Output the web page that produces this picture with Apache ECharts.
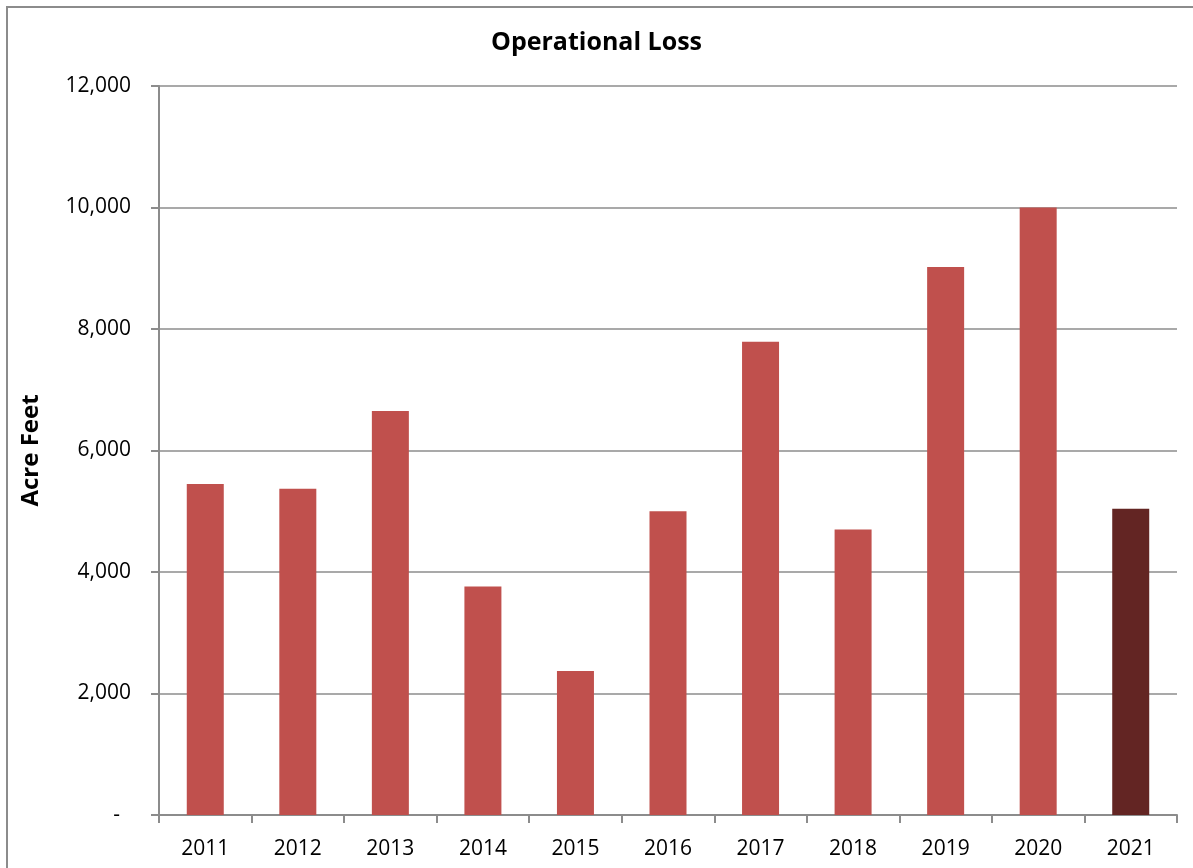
<!DOCTYPE html>
<html>
<head>
<meta charset="utf-8">
<script src="https://cdn.jsdelivr.net/npm/echarts@6/dist/echarts.min.js"></script>
<style>
  html, body { margin: 0; padding: 0; background: #fff; overflow: hidden; }
  #chart { width: 1193px; height: 868px; }
</style>
</head>
<body>
<div id="chart"></div>
<script>
// data
var years = ['2011', '2012', '2013', '2014', '2015', '2016', '2017', '2018', '2019', '2020', '2021'];
var loss = [5450, 5370, 6650, 3760, 2370, 5000, 7790, 4700, 9020, 10000, 5040];
var lastYearColor = '#632523';
var barColor = '#c0504d';

var chart = echarts.init(document.getElementById('chart'));

var barData = loss.map(function (v, i) {
  return {
    value: v,
    itemStyle: { color: i === loss.length - 1 ? lastYearColor : barColor }
  };
});

var option = {
  animation: false,
  textStyle: { fontFamily: 'Open Sans, Noto Sans, sans-serif' },
  title: {
    text: 'Operational Loss',
    left: 'center',
    top: 25,
    textStyle: { fontSize: 25, fontWeight: 'bold', color: '#000', fontFamily: 'Open Sans, sans-serif' }
  },
  graphic: [{
    type: 'rect',
    shape: { x: 7, y: 7, width: 1400, height: 1000 },
    style: { fill: null, stroke: '#8c8c8c', lineWidth: 2 },
    silent: true
  }],
  grid: { left: 159, right: 16, top: 86, bottom: 53 },
  xAxis: {
    type: 'category',
    data: years,
    boundaryGap: true,
    axisLine: { lineStyle: { color: '#8c8c8c', width: 2 } },
    axisTick: { show: true, length: 8, lineStyle: { color: '#8c8c8c', width: 2 } },
    axisLabel: { color: '#000', fontSize: 21, margin: 24, fontFamily: 'Open Sans, sans-serif' }
  },
  yAxis: {
    type: 'value',
    min: 0,
    max: 12000,
    interval: 2000,
    name: 'Acre Feet',
    nameLocation: 'middle',
    nameGap: 116,
    nameRotate: 90,
    nameTextStyle: { fontSize: 24, fontWeight: 'bold', color: '#000', fontFamily: 'Open Sans, sans-serif' },
    axisLine: { show: true, lineStyle: { color: '#8c8c8c', width: 2 } },
    axisTick: { show: true, inside: false, length: 8, lineStyle: { color: '#8c8c8c', width: 2 } },
    splitLine: { show: true, lineStyle: { color: '#8c8c8c', width: 1.5 } },
    axisLabel: {
      color: '#000',
      fontSize: 21,
      margin: 28,
      fontFamily: 'Open Sans, sans-serif',
      formatter: function (v) {
        return v === 0 ? '-  ' : v.toLocaleString('en-US');
      }
    }
  },
  series: [{
    type: 'bar',
    data: barData,
    barWidth: 37
  }]
};

chart.setOption(option);
</script>
</body>
</html>
